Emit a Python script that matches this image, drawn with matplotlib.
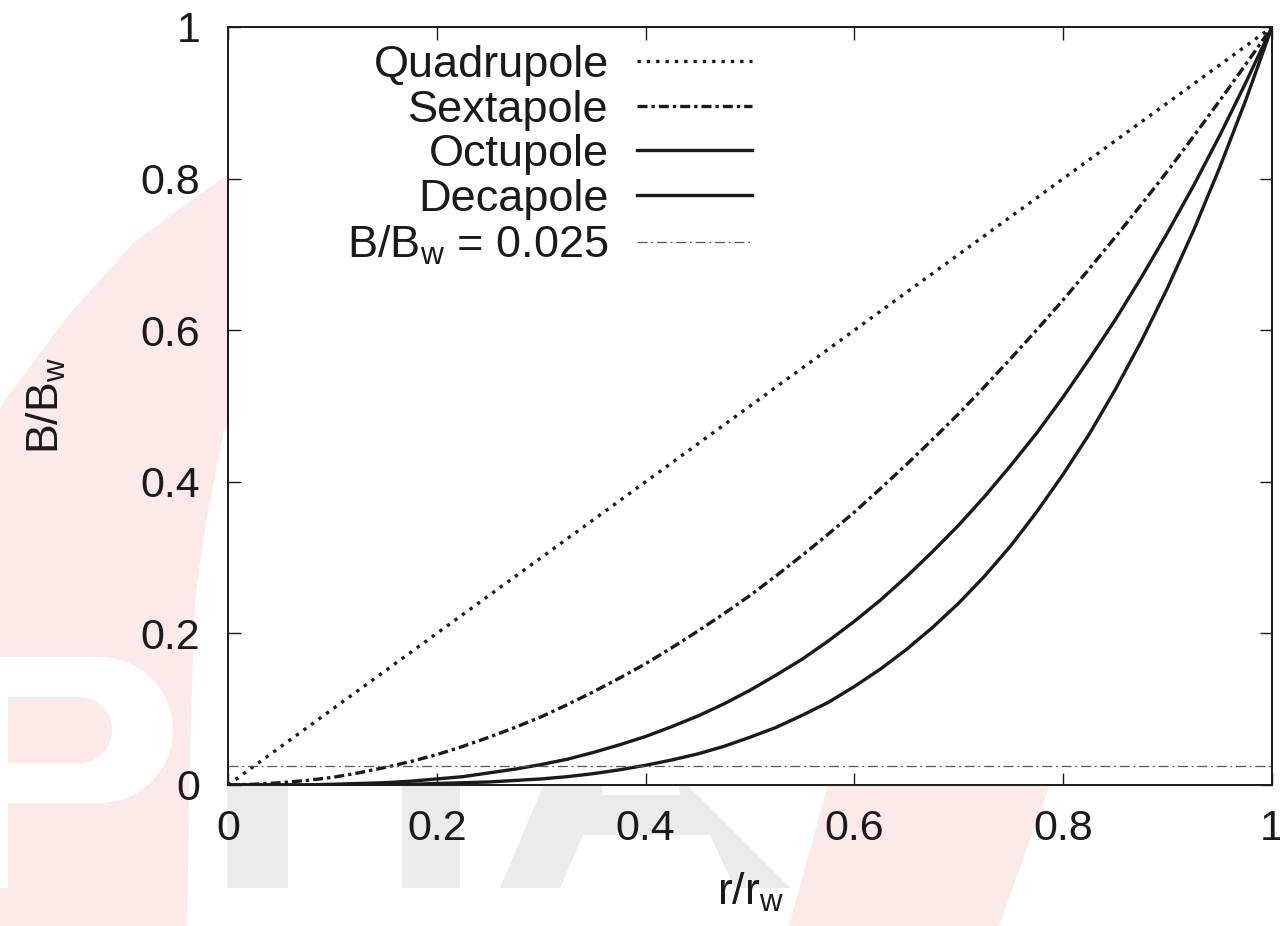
import matplotlib
matplotlib.use("Agg")
import matplotlib.pyplot as plt
from matplotlib.patches import Polygon
import numpy as np

plt.rcParams['font.family'] = ['Liberation Sans', 'DejaVu Sans']
plt.rcParams['mathtext.fontset'] = 'custom'
plt.rcParams['mathtext.rm'] = 'Liberation Sans'

# normalised radius and field ratio B/B_w for each multipole
r = [0.0, 0.025, 0.05, 0.075, 0.1, 0.125, 0.15, 0.175, 0.2, 0.225,
     0.25, 0.275, 0.3, 0.325, 0.35, 0.375, 0.4, 0.425, 0.45, 0.475,
     0.5, 0.525, 0.55, 0.575, 0.6, 0.625, 0.65, 0.675, 0.7, 0.725,
     0.75, 0.775, 0.8, 0.825, 0.85, 0.875, 0.9, 0.925, 0.95, 0.975, 1.0]
quadrupole = [0.0, 0.025, 0.05, 0.075, 0.1, 0.125, 0.15, 0.175, 0.2, 0.225,
              0.25, 0.275, 0.3, 0.325, 0.35, 0.375, 0.4, 0.425, 0.45, 0.475,
              0.5, 0.525, 0.55, 0.575, 0.6, 0.625, 0.65, 0.675, 0.7, 0.725,
              0.75, 0.775, 0.8, 0.825, 0.85, 0.875, 0.9, 0.925, 0.95, 0.975, 1.0]
sextapole = [0.0, 0.001, 0.003, 0.006, 0.01, 0.016, 0.023, 0.031, 0.04, 0.051,
             0.063, 0.076, 0.09, 0.106, 0.123, 0.141, 0.16, 0.181, 0.203, 0.226,
             0.25, 0.276, 0.303, 0.331, 0.36, 0.391, 0.423, 0.456, 0.49, 0.526,
             0.563, 0.601, 0.64, 0.681, 0.723, 0.766, 0.81, 0.856, 0.903, 0.951, 1.0]
octupole = [0.0, 0.0, 0.0, 0.0, 0.001, 0.002, 0.003, 0.005, 0.008, 0.011,
            0.016, 0.021, 0.027, 0.034, 0.043, 0.053, 0.064, 0.077, 0.091, 0.107,
            0.125, 0.145, 0.166, 0.19, 0.216, 0.244, 0.275, 0.308, 0.343, 0.381,
            0.422, 0.465, 0.512, 0.562, 0.614, 0.67, 0.729, 0.791, 0.857, 0.927, 1.0]
decapole = [0.0, 0.0, 0.0, 0.0, 0.0, 0.0, 0.001, 0.001, 0.002, 0.003,
            0.004, 0.006, 0.008, 0.011, 0.015, 0.02, 0.026, 0.033, 0.041, 0.051,
            0.063, 0.076, 0.092, 0.109, 0.13, 0.153, 0.179, 0.208, 0.24, 0.276,
            0.316, 0.361, 0.41, 0.463, 0.522, 0.586, 0.656, 0.732, 0.815, 0.904, 1.0]
threshold = 0.025

ticks = [0, 0.2, 0.4, 0.6, 0.8, 1]
tick_labels = ['0', '0.2', '0.4', '0.6', '0.8', '1']

W, H = 1280, 926
fig = plt.figure(figsize=(W / 100, H / 100), dpi=100)

# faint logo watermark behind the plot, in pixel coordinates
bg = fig.add_axes([0, 0, 1, 1], zorder=-1)
bg.set_xlim(0, W)
bg.set_ylim(H, 0)
bg.axis('off')
pink = '#fce9e9'
grey = '#ebebeb'
bg.add_patch(Polygon([(0, 407), (33, 363), (67, 317), (133, 243), (227, 175), (260, 150),
                      (260, 400), (224, 430), (214, 480), (203, 540), (195, 600),
                      (190, 750), (187, 926), (0, 926)], closed=True, fc=pink, ec='none'))
t = np.linspace(np.pi / 2, -np.pi / 2, 40)
bowl = [(0, 657), (100, 657)] + list(zip(100 + 73 * np.cos(t), 730 - 73 * np.sin(t))) + \
       [(100, 803), (8, 803), (8, 888), (0, 888)]
bg.add_patch(Polygon(bowl, closed=True, fc='white', ec='none'))
hole = [(8, 697), (80, 697)] + list(zip(80 + 32 * np.cos(t), 730 - 33 * np.sin(t))) + [(8, 763)]
bg.add_patch(Polygon(hole, closed=True, fc=pink, ec='none'))
bg.add_patch(Polygon([(227, 770), (288, 770), (288, 888), (227, 888)], closed=True, fc=grey, ec='none'))
bg.add_patch(Polygon([(402, 770), (460, 770), (460, 888), (402, 888)], closed=True, fc=grey, ec='none'))
bg.add_patch(Polygon([(500, 888), (550, 770), (672, 770), (790, 888), (735, 888), (710, 835),
                      (583, 835), (560, 888)], closed=True, fc=grey, ec='none'))
bg.add_patch(Polygon([(600, 770), (676, 770), (680, 795), (603, 795)], closed=True, fc='white', ec='none'))
bg.add_patch(Polygon([(832, 770), (1055, 770), (999, 926), (789, 926)], closed=True, fc=pink, ec='none'))

ax = fig.add_axes([228 / W, 1 - 785 / H, (1272 - 228) / W, (785 - 27) / H])
ax.set_facecolor('white')

ink = '#1a1a1a'
ax.plot(r, quadrupole, color=ink, lw=2.4, linestyle=(0, (1, 1.8)), label='Quadrupole')
ax.plot(r, sextapole, color=ink, lw=2.4, linestyle=(0, (3, 1.2, 1, 1.2)), label='Sextapole')
ax.plot(r, octupole, color=ink, lw=2.4, label='Octupole')
ax.plot(r, decapole, color=ink, lw=2.4, label='Decapole')
ax.axhline(threshold, color='#555555', lw=0.9, linestyle=(0, (8, 3, 1.5, 3)),
           label=r'B/B$_\mathregular{w}$ = 0.025')

ax.set_xlim(0, 1)
ax.set_ylim(0, 1)
ax.set_xticks(ticks)
ax.set_xticklabels(tick_labels)
ax.set_yticks(ticks)
ax.set_yticklabels(tick_labels)
ax.tick_params(direction='in', length=9, width=1.0, top=True, right=True,
               labelsize=31, colors=ink)
ax.tick_params(axis='x', pad=17)
ax.tick_params(axis='y', pad=20)
for s in ax.spines.values():
    s.set_linewidth(1.4)
    s.set_color(ink)

ax.set_xlabel(r'r/r$_\mathregular{w}$', fontsize=32, color=ink)
ax.set_ylabel(r'B/B$_\mathregular{w}$', fontsize=32, color=ink)
ax.xaxis.set_label_coords(0.5, -0.113)
ax.yaxis.set_label_coords(-0.153, 0.5)

ax.legend(loc='upper right', bbox_to_anchor=(752 / W, 1 - 45 / H), bbox_transform=fig.transFigure,
          frameon=False, markerfirst=False, fontsize=32.5, handlelength=2.55, handletextpad=0.62,
          labelspacing=0.08, borderpad=0, borderaxespad=0, labelcolor=ink)

fig.savefig('out.png', dpi=100)
